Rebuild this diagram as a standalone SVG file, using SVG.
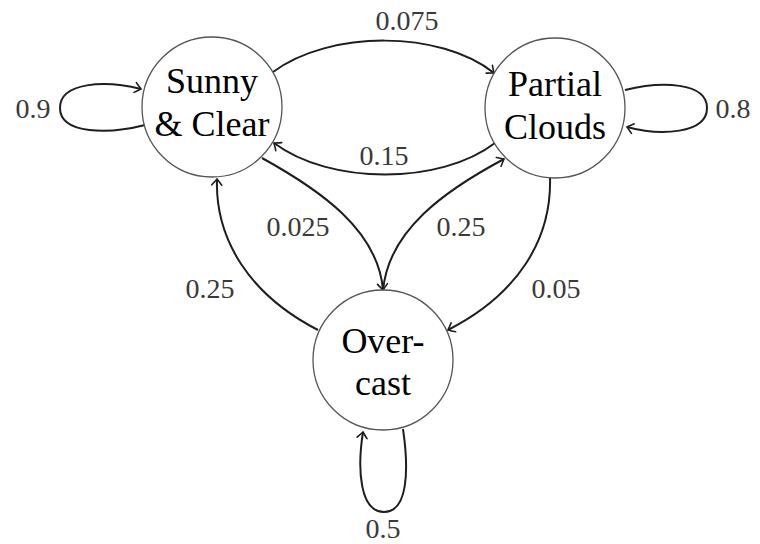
<svg xmlns="http://www.w3.org/2000/svg" width="760" height="544" viewBox="0 0 760 544">
  <style>
    .state { fill: #ffffff; stroke: #555555; stroke-width: 1.3; }
    .name { font-family: "Liberation Serif", "Times New Roman", serif; font-size: 36px; fill: #000000; text-anchor: middle; }
    .edge { fill: none; stroke: #1e1e1e; stroke-width: 2; marker-end: url(#tip); }
    .prob { font-family: "Liberation Serif", "Times New Roman", serif; font-size: 28px; fill: #3a3a3a; text-anchor: middle; }
  </style>
  <defs>
    <marker id="tip" markerUnits="userSpaceOnUse" markerWidth="16" markerHeight="16" refX="0" refY="0" viewBox="-10 -8 12 16" orient="auto" overflow="visible">
      <path d="M-6,-5 Q-1.5,-1.2 0,0 Q-1.5,1.2 -6,5" fill="none" stroke="#1e1e1e" stroke-width="1.6" stroke-linecap="round"/>
    </marker>
  </defs>

  <rect width="760" height="544" fill="#ffffff"/>

  <!-- transitions -->
  <g id="connectors">
    <path class="edge" d="M273,72 C330,30 440,30 494,73"/>
    <path class="edge" d="M495,143 C440,185 330,185 274,143"/>
    <path class="edge" d="M262,158 C320,190 378,230 383,290"/>
    <path class="edge" d="M383,291 C388,230 446,190 504,159"/>
    <path class="edge" d="M318,330 C250,295 215,240 217,179"/>
    <path class="edge" d="M550,177 C552,240 517,295 448,330"/>
    <path class="edge" d="M145,125 C110,134 60,135 60,108 C60,82 105,80 141,89"/>
    <path class="edge" d="M625,90 C661,81 707,82 707,108 C707,134 660,136 627,127"/>
    <path class="edge" d="M403,429 C409,470 408,512 384,512 C360,512 357,470 363,432"/>

    <text class="prob" x="33" y="118">0.9</text>
    <text class="prob" x="407" y="30">0.075</text>
    <text class="prob" x="384" y="165">0.15</text>
    <text class="prob" x="733" y="118">0.8</text>
    <text class="prob" x="298" y="236">0.025</text>
    <text class="prob" x="461" y="236">0.25</text>
    <text class="prob" x="210" y="298">0.25</text>
    <text class="prob" x="556" y="298">0.05</text>
    <text class="prob" x="383" y="538">0.5</text>
  </g>

  <!-- states -->
  <g id="sunny">
    <circle class="state" cx="212" cy="107" r="70"/>
    <text class="name" x="212" y="93">Sunny</text>
    <text class="name" x="212" y="136">&amp; Clear</text>
  </g>
  <g id="partial">
    <circle class="state" cx="555" cy="108" r="70"/>
    <text class="name" x="555" y="96">Partial</text>
    <text class="name" x="555" y="139">Clouds</text>
  </g>
  <g id="overcast">
    <circle class="state" cx="383" cy="360" r="70"/>
    <text class="name" x="383" y="353">Over-</text>
    <text class="name" x="383" y="395">cast</text>
  </g>
</svg>
